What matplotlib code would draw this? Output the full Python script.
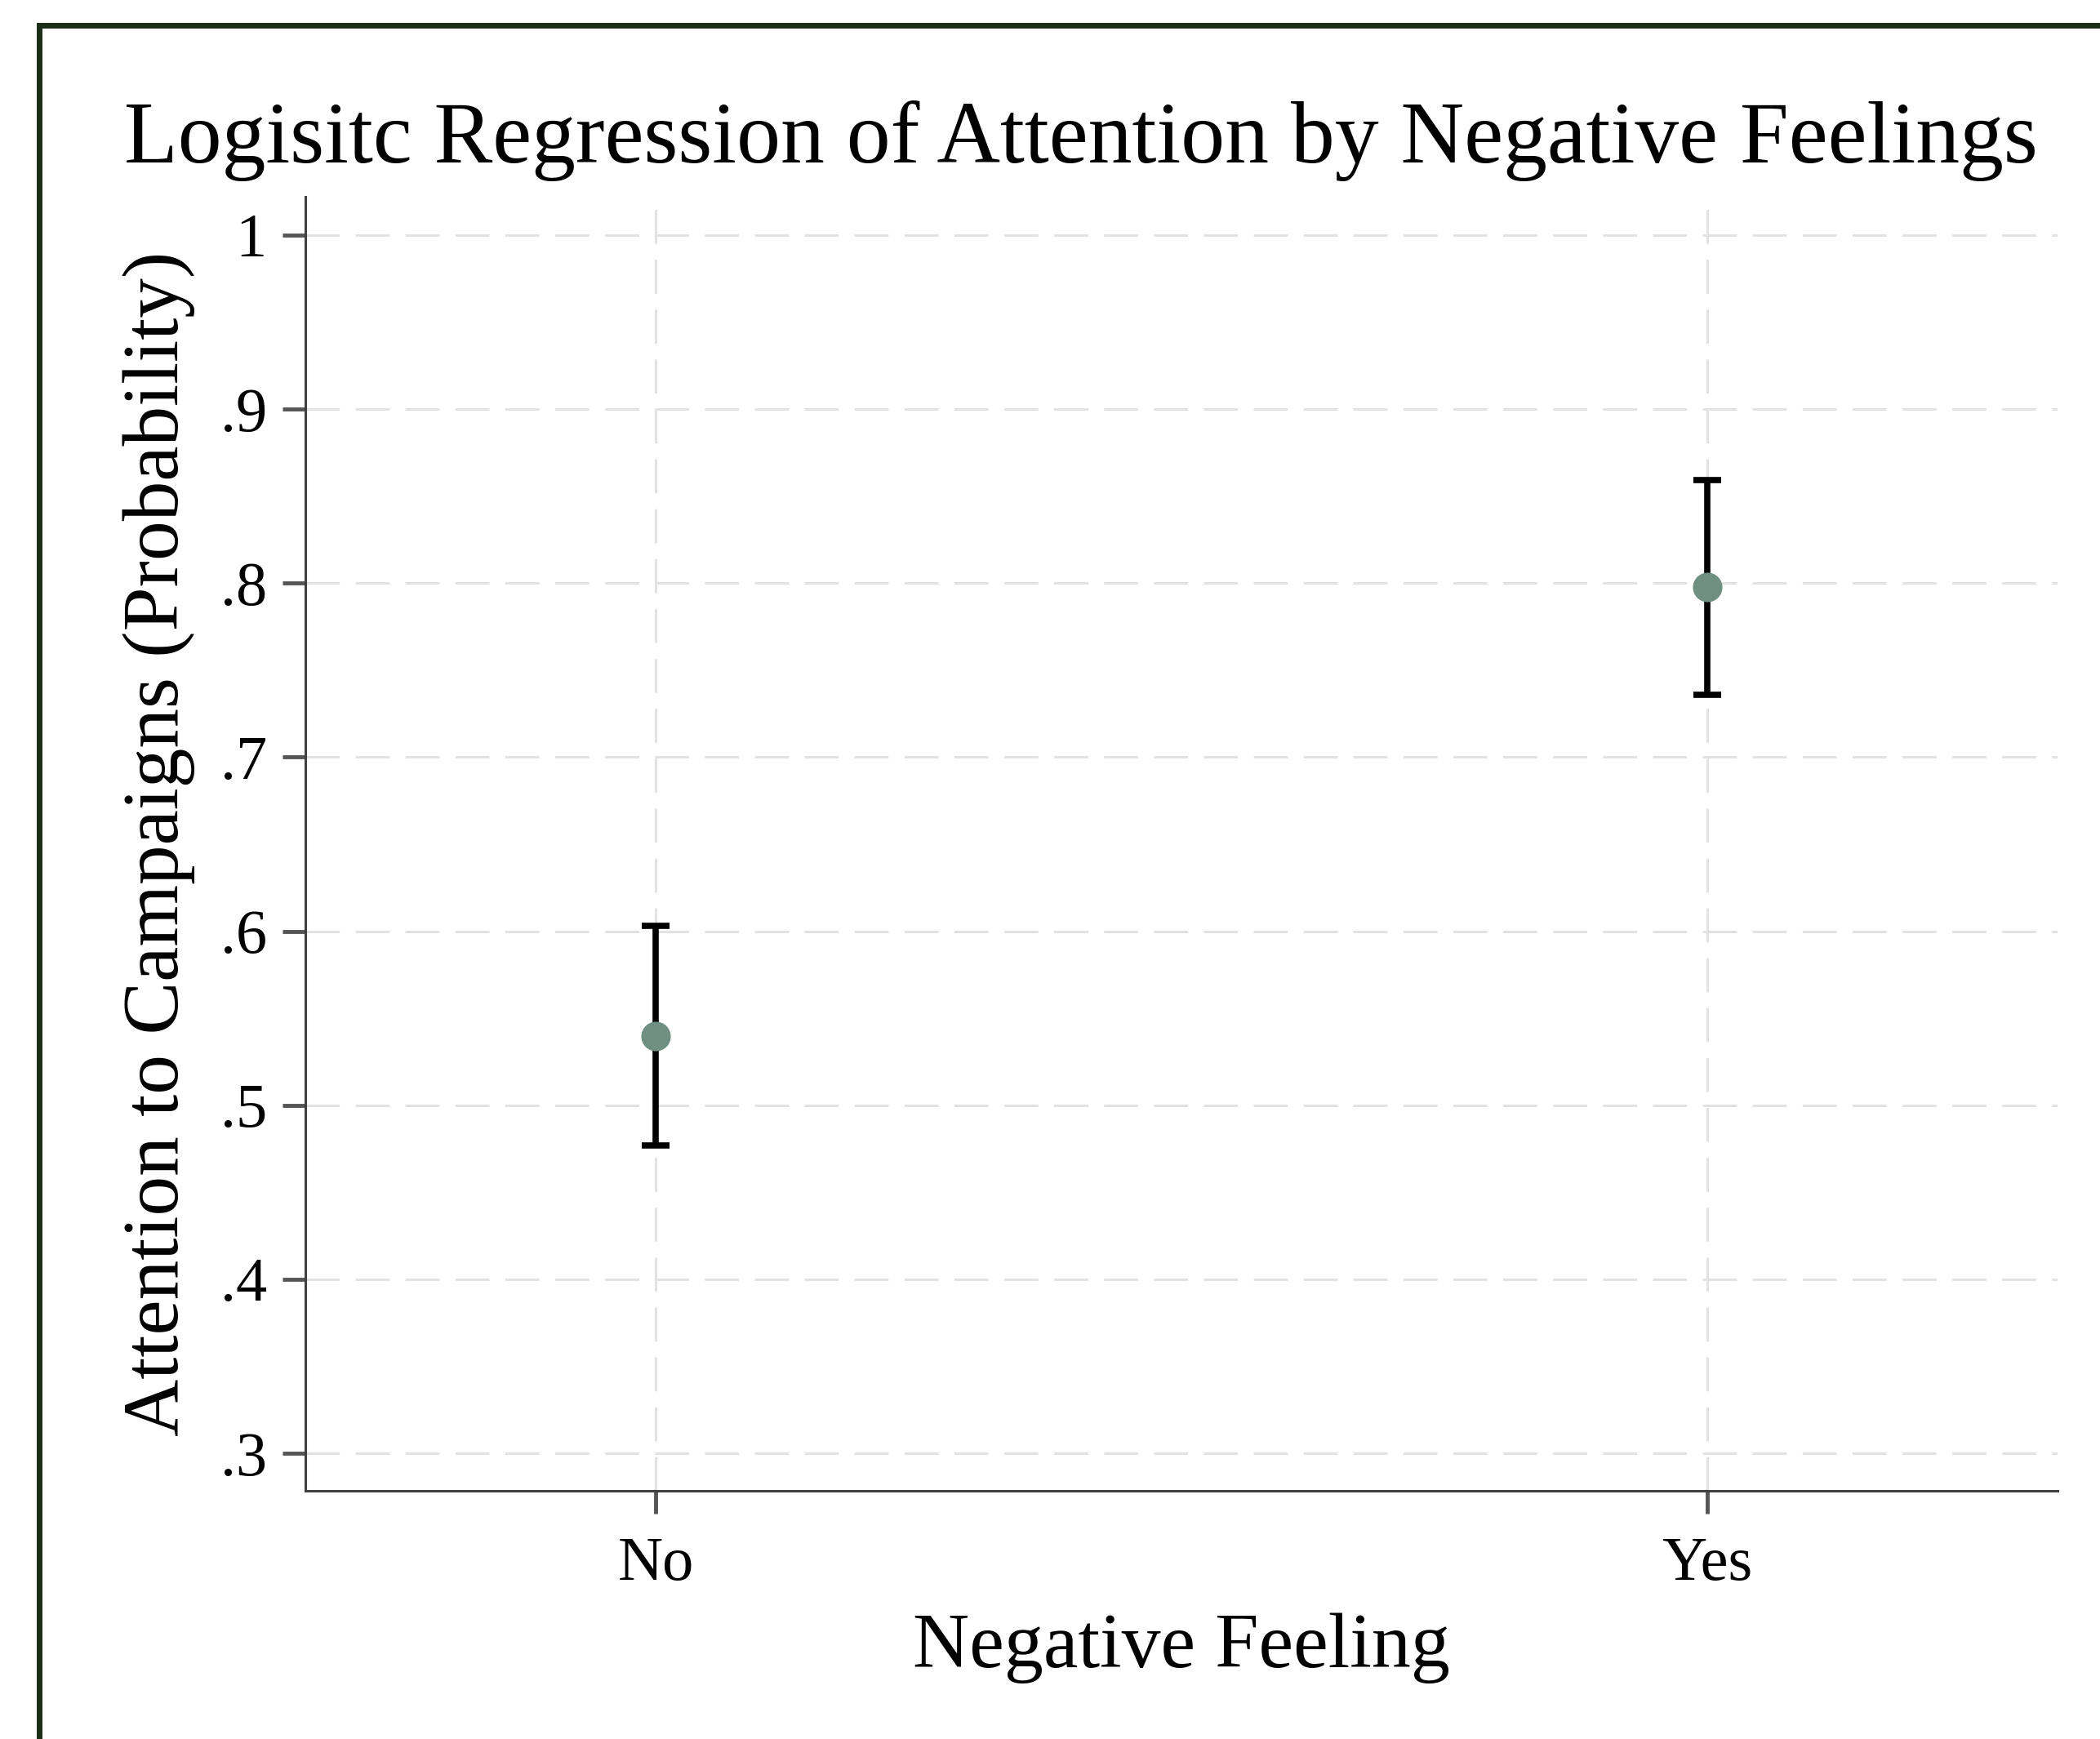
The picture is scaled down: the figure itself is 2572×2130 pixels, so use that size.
import numpy as np
import matplotlib
matplotlib.use("Agg")
import matplotlib.pyplot as plt
from matplotlib.patches import Rectangle

# data
categories = ["No", "Yes"]
prob = [0.540, 0.798]
ci_low = [0.477, 0.736]
ci_high = [0.603, 0.859]
yticks = [0.3, 0.4, 0.5, 0.6, 0.7, 0.8, 0.9, 1.0]
ytick_labels = [".3", ".4", ".5", ".6", ".7", ".8", ".9", "1"]

plt.rcParams['font.family'] = ['Liberation Serif', 'DejaVu Serif']
plt.rcParams['lines.scale_dashes'] = False

W, H = 2572, 2130
fig = plt.figure(figsize=(W / 100, H / 100), dpi=100)
ax = fig.add_axes([374 / W, 1 - 1826 / H, (2520 - 374) / W, (1826 - 241) / H])

x = np.arange(len(categories))
prob = np.array(prob)
err = [prob - np.array(ci_low), np.array(ci_high) - prob]

ax.errorbar(x, prob, yerr=err, fmt='none', ecolor='black', elinewidth=5.5,
            capsize=12, capthick=5.5, zorder=3)
ax.plot(x, prob, 'o', color='#6e8f82', markersize=25, zorder=4)

ax.set_xlim(-1 / 3, 4 / 3)
ax.set_ylim(0.2785, 1.022)
ax.set_xticks(x)
ax.set_xticklabels(categories)
ax.set_yticks(yticks)
ax.set_yticklabels(ytick_labels)

ax.grid(True, color='#e2e2e2', linewidth=2.2, linestyle=(0, (30, 14)))
ax.set_axisbelow(True)

for s in ['top', 'right']:
    ax.spines[s].set_visible(False)
for s in ['left', 'bottom']:
    ax.spines[s].set_color('#404040')
    ax.spines[s].set_linewidth(2.2)

ax.tick_params(axis='both', length=20, width=3.5, color='#555555',
               labelsize=55, pad=14)
ax.tick_params(axis='x', pad=20)

ax.set_xlabel("Negative Feeling", fontsize=69, labelpad=18)
ax.set_ylabel("Attention to Campaigns (Probability)", fontsize=70, labelpad=22)

fig.text(1324 / W, 1 - 172 / H, "Logisitc Regression of Attention by Negative Feelings",
         ha='center', va='center', fontsize=77.5)

# outer frame (right and bottom edges fall off the picture)
fig.patches.append(Rectangle((48 / W, -0.5), 2, 1.5 - 31 / H, fill=False,
                             edgecolor='#1c2d17', linewidth=5,
                             transform=fig.transFigure))

fig.savefig("out.png", dpi=100, facecolor='white')
